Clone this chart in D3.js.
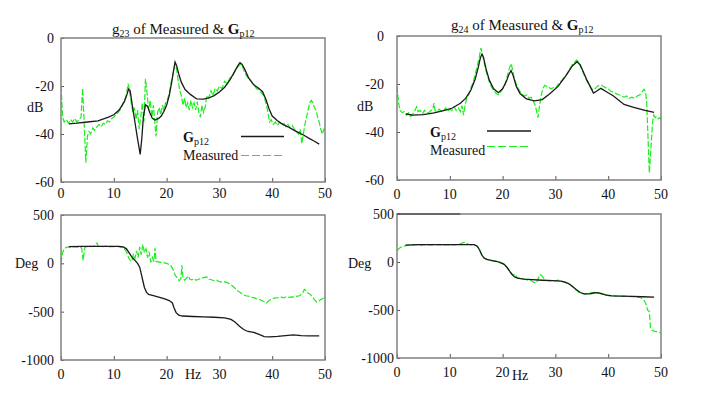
<!DOCTYPE html>
<html><head><meta charset="utf-8">
<script src="https://cdn.jsdelivr.net/npm/d3@7"></script>
<style>
body{margin:0;background:#fff;}
svg{display:block;font-family:"Liberation Serif","Times New Roman",serif;}
</style></head>
<body><svg id="c" width="708" height="395"></svg>
<script>
// ---------- data ----------
const xTicks = [0, 10, 20, 30, 40, 50];
const dbTicks = [0, -20, -40, -60];
const degTicks = [500, 0, -500, -1000];

// g23 magnitude (dB)
const g23ModelHz = [1.5,3,5,7,9,10,11,12,12.5,12.8,13.1,13.5,14,14.5,15,15.3,15.6,16,16.4,16.8,17.3,17.8,18.5,19,19.5,20,20.5,21,21.4,21.6,21.9,22.3,22.8,23.5,24.5,25.7,27,28,29,30,31,32,33,33.5,33.9,34.3,34.8,35.5,36.5,37.5,38.2,38.8,39.4,40,41,42,43,44,45,46,47,48,48.9];
const g23ModelDb = [-35.8,-35.5,-35,-34.5,-33,-32,-30,-26.5,-23.5,-21.3,-22,-28,-35,-42,-48.5,-42,-33,-27.8,-28.5,-31,-33.5,-34.2,-33.5,-32.5,-30.5,-28,-24,-18,-12.5,-10,-11.5,-15,-18.5,-21.5,-23.5,-25.4,-25.5,-25,-24,-22.5,-20.5,-17.5,-13.5,-11.5,-10.3,-11,-13,-16.5,-19.5,-21,-22.5,-25.5,-29.5,-32.5,-34.5,-36,-37,-38.3,-39.4,-40.5,-41.8,-43,-44.2];
const g23MeasHz = [0,0.3,0.6,1,1.4,1.8,2.2,2.6,3,3.4,3.8,4.1,4.4,4.7,5,5.3,5.6,6,6.4,6.8,7.2,7.6,8,8.4,8.8,9.2,9.6,10,10.4,10.8,11.2,11.6,12,12.4,12.7,13,13.3,13.6,13.9,14.2,14.5,14.8,15.1,15.4,15.7,16,16.3,16.6,16.9,17.2,17.5,17.8,18,18.3,18.6,18.9,19.2,19.5,19.8,20.1,20.5,20.9,21.3,21.6,21.9,22.2,22.5,22.8,23.1,23.4,23.7,24,24.3,24.6,24.9,25.2,25.5,25.8,26.1,26.4,26.7,27,27.3,27.6,28,28.4,28.8,29.2,29.6,30,30.5,31,31.5,32,32.5,33,33.5,34,34.4,34.8,35.2,35.6,36,36.5,37,37.5,38,38.4,38.8,39.2,39.5,39.8,40.2,40.6,41,41.4,41.8,42.2,42.6,43,43.4,43.8,44.2,44.6,45,45.3,45.6,45.9,46.2,46.5,46.8,47.1,47.4,47.7,48,48.3,48.6,48.9,49.2,49.5,49.8,50];
const g23MeasDb = [-20,-33,-35,-34,-35.5,-34,-35,-33.5,-35,-34,-33,-21,-36,-52,-41,-39,-40,-37.5,-38.5,-37,-36,-37,-35.5,-36,-34.5,-35,-33.5,-33,-32,-31,-30,-28,-26,-23.5,-19,-22,-27,-31,-29,-34,-30,-38,-33,-27,-35,-17,-23,-30,-26,-33,-28,-36,-41,-31,-29,-32,-28,-30,-27,-26,-23,-18,-14,-11,-13,-18,-22,-24,-28,-25,-29,-27,-30,-26,-29,-27,-30,-26.5,-31,-33,-28,-31,-29,-24,-25,-22,-24,-21,-22,-20,-21,-18,-19,-16.5,-16,-13.5,-12,-11,-12,-14.5,-16,-17,-18,-19.5,-21,-21.5,-23,-24,-27,-31,-35,-34,-36,-35,-36.5,-35,-36,-35.5,-37,-36,-37.5,-36.5,-38,-39,-40,-38,-44,-40,-36,-33,-30,-27,-26,-27,-29,-30,-33,-35,-38,-40,-38,-38];

// g24 magnitude (dB)
const g24ModelHz = [1.7,3,5,7,9,10.5,12,13,14,14.8,15.4,15.8,16.1,16.4,16.9,17.5,18.3,19.2,20,20.7,21.2,21.6,22,22.6,23.3,24.5,26,27.5,29,30.5,32,33.2,34.1,34.7,35.3,36,36.7,37.2,37.8,38.6,39.5,41,43,45,47,48.7];
const g24ModelDb = [-32.5,-33,-32.8,-32,-31,-30,-28,-26,-22.5,-18,-13,-9,-7.5,-9,-14,-18.5,-22,-23.6,-22,-19,-16,-14.4,-16.5,-21,-24,-26.2,-27,-26.5,-24,-21,-16.5,-12.5,-10.7,-12,-15,-18.5,-21.5,-23.8,-23,-21.8,-23,-25,-28.5,-29.8,-31,-31.8];
const g24MeasHz = [0,0.3,0.6,1,1.4,1.8,2.2,2.6,3,3.4,3.7,4,4.4,4.8,5.2,5.6,6,6.4,6.8,7,7.2,7.6,8,8.4,8.8,9.2,9.6,10,10.4,10.8,11.2,11.6,12,12.3,12.6,12.9,13.2,13.6,14,14.4,14.8,15.2,15.6,15.9,16.2,16.5,16.8,17.2,17.6,18,18.4,18.8,19.2,19.6,20,20.4,20.8,21.2,21.6,21.9,22.2,22.6,23,23.4,23.8,24.2,24.6,25,25.4,25.8,26.2,26.5,26.7,27,27.3,27.6,28,28.4,28.8,29.2,29.6,30,30.4,30.8,31.2,31.6,32,32.4,32.8,33.2,33.6,34,34.3,34.7,35.1,35.5,35.9,36.3,36.7,37.1,37.5,37.9,38.3,38.7,39.1,39.5,40,40.5,41,41.5,42,42.5,43,43.5,44,44.5,45,45.5,46,46.5,46.8,47.1,47.3,47.5,47.7,47.8,48,48.2,48.4,48.6,48.9,49.2,49.5,49.8,50];
const g24MeasDb = [-21,-28,-31,-32,-31.5,-33,-32,-33.5,-32.5,-31,-29.5,-31.5,-31,-32.5,-31,-31.5,-32,-31,-30.5,-28,-31,-31.5,-30.5,-31.5,-31,-30,-31.5,-30.5,-31,-29.5,-31,-30,-31.5,-29,-33,-29,-26,-24.5,-21.5,-19.5,-16,-12.5,-8.5,-5,-8,-11,-14,-17,-20,-21.5,-23,-24,-24.5,-23.5,-22,-20.5,-17.5,-14,-11.5,-14,-17.5,-20,-22,-23.5,-24.5,-25,-24.5,-26,-25.5,-27,-29,-32,-34,-29,-25,-22,-20.5,-21,-21.5,-22,-21.5,-22,-20.5,-19.5,-18.5,-17.5,-16.5,-15,-13.5,-12,-11,-10,-10.5,-12.5,-14.5,-16.5,-18.5,-20,-21.5,-22.5,-22,-21,-20.5,-20.5,-21,-21.5,-22,-23,-23.5,-24,-24.5,-25,-25.5,-25,-26,-25.5,-26,-25,-24.5,-23,-22.2,-23.5,-28,-40,-52,-57,-50,-43,-36,-33,-34,-33.5,-34.5,-34,-35];

// g23 phase (deg)
const p23ModelHz = [1.5,4,8,11,11.8,12.4,13,13.5,14,14.5,14.9,15.2,15.5,15.8,16.2,16.6,17.5,18.5,19.5,20.5,21.1,21.4,21.8,22.3,23,25,27,29,31,32.2,33,33.8,34.6,35.4,36.5,37.5,38.5,39.5,41,42.5,44,45.5,47,48.9];
const p23ModelDeg = [172,175,175,175,170,150,100,60,30,0,-40,-110,-180,-250,-300,-322,-335,-350,-365,-385,-410,-460,-510,-535,-545,-550,-553,-558,-565,-580,-610,-650,-685,-705,-715,-735,-758,-760,-755,-748,-740,-747,-750,-750];
const p23MeasHz = [0,0.3,0.6,1,1.5,2,2.5,3,3.5,3.9,4.2,4.5,4.8,5.2,5.6,6,6.4,6.8,7.1,7.5,8,8.5,9,9.5,10,10.5,11,11.5,12,12.4,12.8,13.1,13.4,13.7,14,14.3,14.6,14.9,15.2,15.5,15.8,16.1,16.4,16.7,17,17.3,17.6,17.8,18,18.4,18.8,19.2,19.6,20,20.4,20.8,21.2,21.6,22,22.4,22.7,22.9,23.1,23.4,23.8,24.1,24.4,24.8,25.2,25.6,26,26.4,26.8,27.2,27.6,28,28.5,29,29.5,30,30.5,31,31.5,32,32.5,33,33.5,34,34.5,35,35.5,36,36.5,37,37.5,38,38.5,38.9,39.3,39.7,40.2,40.7,41.2,41.7,42.2,42.7,43.2,43.7,44.2,44.7,45.2,45.7,46.1,46.4,46.8,47.2,47.6,48,48.4,48.8,49.2,49.6,50];
const p23MeasDeg = [0,110,150,165,170,165,172,168,170,160,30,160,175,165,178,172,185,210,175,180,172,178,168,175,172,178,170,165,150,120,60,30,20,90,50,130,60,170,90,195,110,150,60,120,10,60,20,160,20,15,10,15,5,0,-10,-25,-60,-120,-150,-180,-160,-20,-150,-175,-150,-130,-165,-170,-160,-175,-165,-160,-150,-145,-140,-165,-170,-180,-175,-190,-195,-190,-200,-215,-235,-260,-285,-305,-325,-335,-340,-350,-355,-365,-372,-385,-398,-410,-390,-375,-362,-358,-355,-350,-358,-345,-352,-348,-350,-340,-335,-310,-270,-280,-310,-320,-345,-375,-400,-390,-375,-365,-345];

// g24 phase (deg)
const p24ModelHz = [1.6,4,8,12,14.6,15.2,15.7,16.1,16.5,17,18,19,20.3,20.9,21.4,21.8,22.3,22.8,24,25.6,27.5,29.5,31,31.8,32.5,33.3,34,34.7,35.5,36.5,37.3,37.9,38.6,39.5,40.7,42.5,44.5,46.5,48.7];
const p24ModelDeg = [175,180,180,180,180,165,120,70,42,28,14,5,-25,-60,-100,-130,-155,-167,-178,-184,-190,-195,-200,-210,-225,-258,-290,-318,-333,-332,-323,-320,-328,-343,-353,-356,-359,-362,-366];
const p24MeasHz = [0,0.3,0.6,1,1.5,2,2.5,3,3.5,4,4.5,5,5.5,6,6.5,7,7.5,8,8.5,9,9.5,10,10.5,11,11.5,12,12.4,12.8,13.2,13.6,14,14.5,15,15.4,15.8,16.2,16.6,17,17.5,18,18.5,19,19.5,20,20.5,21,21.5,22,22.4,22.8,23.2,23.6,24,24.5,25,25.5,26,26.4,26.8,27.1,27.4,27.8,28.2,28.6,29,29.5,30,30.5,31,31.5,32,32.5,33,33.5,34,34.5,35,35.5,36,36.5,37,37.5,38,38.5,39,39.5,40,40.5,41,41.5,42,42.5,43,43.5,44,44.5,45,45.5,46,46.3,46.7,47.1,47.5,47.8,48,48.4,48.9,49.4,50];
const p24MeasDeg = [120,135,150,160,168,175,178,176,180,178,176,179,177,180,176,179,181,178,177,180,178,176,181,179,183,190,200,205,195,182,180,178,170,150,100,55,38,30,25,15,12,5,0,-10,-35,-70,-115,-135,-128,-165,-170,-180,-175,-185,-190,-195,-215,-219,-165,-132,-140,-170,-190,-195,-198,-193,-196,-190,-198,-205,-215,-228,-245,-270,-295,-318,-328,-335,-330,-325,-318,-315,-322,-330,-340,-345,-350,-352,-350,-355,-353,-357,-355,-358,-360,-358,-362,-365,-370,-375,-393,-430,-505,-515,-690,-715,-722,-730,-740];

// ---------- drawing ----------
const GREEN = "#19f019", BLACK = "#1a1a1a", FRAME = "#808080";
const svg = d3.select("#c");
const zip = (xs, ys) => xs.map((x, i) => [x, ys[i]]);

const panels = [
  {x0:61, x1:325, y0:38, y1:182, dom:[-60,0], yt:dbTicks, ylab:"dB", ylx:27, yly:112, ytx:54,
   model:zip(g23ModelHz,g23ModelDb), meas:zip(g23MeasHz,g23MeasDb), xlb:198,
   title:{x:112, y:34, sub:"23"},
   legend:{tx:183, ty1:142, ty2:160, lx1:241, lx2:284, ly1:136.5, ly2:155.5}},
  {x0:397, x1:661, y0:36, y1:180, dom:[-60,0], yt:dbTicks, ylab:"dB", ylx:357, yly:111, ytx:384,
   model:zip(g24ModelHz,g24ModelDb), meas:zip(g24MeasHz,g24MeasDb), xlb:199,
   title:{x:451, y:30, sub:"24"},
   legend:{tx:430, ty1:137, ty2:155, lx1:487, lx2:531, ly1:131, ly2:146.5}},
  {x0:61, x1:325, y0:215, y1:360, dom:[-1000,500], yt:degTicks, ylab:"Deg", ylx:15, yly:268, ytx:54,
   model:zip(p23ModelHz,p23ModelDeg), meas:zip(p23MeasHz,p23MeasDeg), xlb:379, hz:{x:185, y:379}},
  {x0:397, x1:661, y0:214, y1:358, dom:[-1000,500], yt:degTicks, ylab:"Deg", ylx:348, yly:268, ytx:394,
   model:zip(p24ModelHz,p24ModelDeg), meas:zip(p24MeasHz,p24MeasDeg), xlb:377, hz:{x:512, y:380}, topmark:true}
];

panels.forEach(p => {
  const x = d3.scaleLinear().domain([0, 50]).range([p.x0, p.x1]);
  const y = d3.scaleLinear().domain(p.dom).range([p.y1, p.y0]);
  const g = svg.append("g");

  // inward ticks (interior only)
  const xa = g.append("g").attr("transform", `translate(0,${p.y1})`)
    .call(d3.axisBottom(x).tickValues(xTicks).tickSize(-4).tickPadding(0).tickFormat(""));
  xa.select(".domain").remove();
  xa.selectAll("line").attr("stroke", "#555");
  const ya = g.append("g").attr("transform", `translate(${p.x0},0)`)
    .call(d3.axisLeft(y).tickValues(p.yt).tickSize(-3).tickFormat(""));
  ya.select(".domain").remove();
  ya.selectAll("line").attr("stroke", "#555");

  // tick labels
  g.selectAll(".xl").data(xTicks).join("text")
    .attr("x", d => x(d)).attr("y", p.xlb).attr("text-anchor", "middle")
    .attr("font-size", 14).attr("fill", "#111").text(d => d);
  g.selectAll(".yl").data(p.yt).join("text")
    .attr("x", p.ytx).attr("y", d => y(d) + 5).attr("text-anchor", "end")
    .attr("font-size", 14).attr("fill", "#111").text(d => d);
  g.append("text").attr("x", p.ylx).attr("y", p.yly).attr("font-size", 14)
    .attr("fill", "#111").text(p.ylab);
  if (p.hz) g.append("text").attr("x", p.hz.x).attr("y", p.hz.y).attr("font-size", 14)
    .attr("fill", "#111").text("Hz");

  // curves
  const line = d3.line().x(d => x(d[0])).y(d => y(d[1]));
  const clipId = "clip" + p.x0 + "_" + p.y0;
  svg.append("clipPath").attr("id", clipId).append("rect")
    .attr("x", p.x0).attr("y", p.y0).attr("width", p.x1 - p.x0).attr("height", p.y1 - p.y0);
  g.append("path").datum(p.meas).attr("d", line).attr("fill", "none")
    .attr("stroke", GREEN).attr("stroke-width", 1.2).attr("stroke-dasharray", "6,2")
    .attr("clip-path", `url(#${clipId})`);
  g.append("path").datum(p.model).attr("d", line).attr("fill", "none")
    .attr("stroke", BLACK).attr("stroke-width", 1.3).attr("clip-path", `url(#${clipId})`);

  // frame
  g.append("rect").attr("x", p.x0).attr("y", p.y0).attr("width", p.x1 - p.x0)
    .attr("height", p.y1 - p.y0).attr("fill", "none").attr("stroke", FRAME).attr("stroke-width", 1.5);
  if (p.topmark) g.append("line").attr("x1", p.x0).attr("x2", x(12)).attr("y1", p.y0).attr("y2", p.y0)
    .attr("stroke", "#333").attr("stroke-width", 1.2);

  // title
  if (p.title) {
    const t = g.append("text").attr("x", p.title.x).attr("y", p.title.y)
      .attr("font-size", 15).attr("fill", "#111");
    t.append("tspan").text("g");
    t.append("tspan").attr("font-size", 10).attr("dy", 3).text(p.title.sub);
    t.append("tspan").attr("dy", -3).text(" of Measured & ");
    t.append("tspan").attr("font-weight", "bold").text("G");
    t.append("tspan").attr("font-size", 10).attr("dy", 3).text("p12");
  }
  // legend
  if (p.legend) {
    const L = p.legend;
    const t1 = g.append("text").attr("x", L.tx).attr("y", L.ty1).attr("font-size", 14).attr("fill", "#111");
    t1.append("tspan").attr("font-weight", "bold").text("G");
    t1.append("tspan").attr("font-size", 10).attr("dy", 2.5).text("p12");
    g.append("text").attr("x", L.tx).attr("y", L.ty2).attr("font-size", 14).attr("fill", "#111").text("Measured");
    g.append("line").attr("x1", L.lx1).attr("x2", L.lx2).attr("y1", L.ly1).attr("y2", L.ly1)
      .attr("stroke", BLACK).attr("stroke-width", 1.3);
    g.append("line").attr("x1", L.lx1).attr("x2", L.lx2).attr("y1", L.ly2).attr("y2", L.ly2)
      .attr("stroke", GREEN).attr("stroke-width", 1.2).attr("stroke-dasharray", "8,3");
  }
});
</script></body></html>
